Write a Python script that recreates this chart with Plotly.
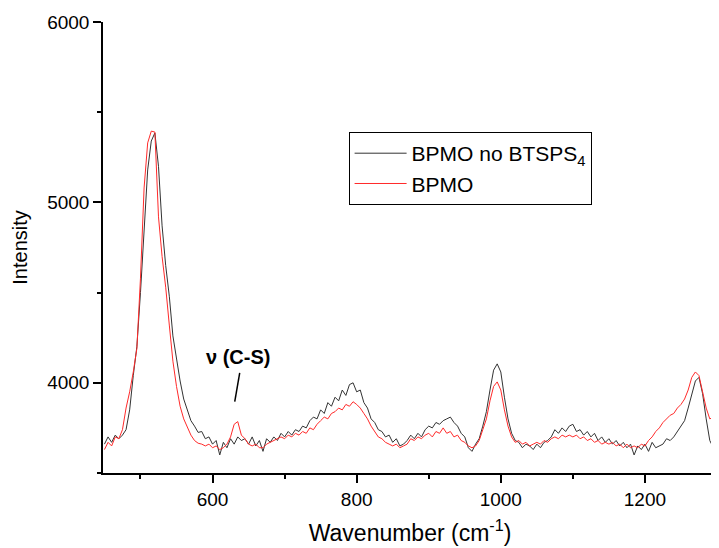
import plotly.graph_objects as go

wn_start = 450
wn_step = 5

bpmo_no_btsps = [
    3660, 3700, 3670, 3710, 3690, 3710, 3740, 3850, 4040, 4200,
    4500, 4850, 5180, 5340, 5385, 5200, 4870, 4650, 4480, 4260,
    4130, 4010, 3910, 3850, 3790, 3760, 3725, 3730, 3690, 3700,
    3660, 3680, 3600, 3670, 3640, 3690, 3660, 3700, 3680, 3690,
    3660, 3700, 3650, 3680, 3620, 3690, 3670, 3700, 3680, 3720,
    3700, 3730, 3710, 3740, 3730, 3760, 3750, 3790, 3810, 3800,
    3850, 3830, 3890, 3870, 3920, 3900, 3960, 3930, 3990, 4000,
    3950, 3960, 3890, 3860, 3800, 3780, 3740, 3730, 3700, 3710,
    3670, 3690, 3650, 3660, 3680, 3710, 3690, 3720, 3700, 3740,
    3760, 3750, 3780, 3770, 3790, 3800, 3810, 3780, 3760, 3720,
    3700, 3640, 3620, 3660, 3690, 3760, 3840, 3960, 4070, 4105,
    4060, 3920, 3800, 3720, 3680, 3670, 3640, 3660, 3650, 3630,
    3660, 3640, 3670, 3680, 3700, 3740, 3720, 3750, 3730, 3760,
    3770, 3730, 3740, 3710, 3730, 3700, 3720, 3680, 3700, 3670,
    3690, 3660, 3680, 3650, 3670, 3640, 3660, 3600, 3650, 3630,
    3660, 3620, 3670, 3640, 3650, 3660, 3690, 3680, 3700, 3730,
    3760, 3790, 3860, 3940, 4010, 4030, 3940, 3800, 3680, 3640,
    3660,
]

bpmo = [
    3630, 3670, 3650, 3700, 3690, 3740, 3860, 3950, 4060, 4190,
    4580, 5080, 5330, 5395, 5390, 4920, 4700, 4530, 4320, 4120,
    3980, 3870, 3800, 3750, 3710, 3680, 3665, 3660, 3650, 3660,
    3640, 3650, 3630, 3640, 3660, 3700, 3770, 3785, 3710, 3690,
    3660, 3650, 3660, 3640, 3640, 3660, 3670, 3680, 3690, 3700,
    3690, 3710, 3700, 3720, 3710, 3730, 3720, 3750, 3740, 3770,
    3790, 3810, 3800, 3830, 3840, 3860, 3850, 3880, 3870, 3895,
    3880, 3860, 3830, 3800, 3760, 3730, 3700, 3690, 3670, 3660,
    3650, 3660, 3640, 3650, 3660, 3690, 3680, 3700, 3690, 3710,
    3720, 3700, 3730, 3720, 3750, 3720, 3730, 3700, 3710, 3680,
    3670, 3650, 3640, 3650, 3680, 3740, 3800, 3900, 3980, 4005,
    3960, 3850, 3760, 3700, 3670, 3680, 3660, 3670, 3650, 3660,
    3670, 3660, 3680, 3670, 3690, 3700, 3690, 3710, 3700, 3710,
    3700, 3710, 3690, 3700, 3680, 3690, 3670, 3680, 3660, 3670,
    3660, 3670, 3650, 3660, 3640, 3660, 3640, 3650, 3640, 3660,
    3650, 3680, 3700, 3730, 3750, 3780, 3800, 3820, 3830, 3860,
    3880, 3910, 3960, 4030, 4060, 4040, 3950, 3860, 3800, 3810,
    3800,
]

wavenumber = [wn_start + i * wn_step for i in range(len(bpmo))]

FONT = "Liberation Sans, Arial, sans-serif"

fig = go.Figure()
fig.add_trace(go.Scatter(x=wavenumber, y=bpmo_no_btsps, mode='lines',
                         name='BPMO no BTSPS<sub>4</sub>',
                         line=dict(color='#333333', width=1)))
fig.add_trace(go.Scatter(x=wavenumber, y=bpmo, mode='lines', name='BPMO',
                         line=dict(color='#ff2a2a', width=1)))

# v(C-S) label with its pointer
fig.add_annotation(x=636, y=4145, text='<b>ν (C-S)</b>', showarrow=False,
                   font=dict(family=FONT, size=20, color='black'))
fig.add_shape(type='line', x0=637.7, y0=4055, x1=630.8, y1=3895,
              line=dict(color='black', width=1.5))

axis_common = dict(showline=True, linecolor='black', linewidth=1.5,
                   showgrid=False, zeroline=False, ticks='outside',
                   ticklen=8, tickwidth=1.5, tickcolor='black',
                   tickfont=dict(family=FONT, size=19, color='black'),
                   automargin=False)

fig.update_xaxes(range=[448, 1300], dtick=200, tick0=0,
                 minor=dict(ticks='outside', ticklen=4, dtick=100, tick0=0,
                            tickcolor='black', tickwidth=1.5),
                 title=dict(text='Wavenumber (cm<sup>-1</sup>)', standoff=16,
                            font=dict(family=FONT, size=23, color='black')),
                 **axis_common)
fig.update_yaxes(range=[3500, 6000], dtick=1000, tick0=0,
                 minor=dict(ticks='outside', ticklen=4, dtick=500, tick0=0,
                            tickcolor='black', tickwidth=1.5),
                 title=dict(text='Intensity', standoff=14,
                            font=dict(family=FONT, size=20, color='black')),
                 **axis_common)

# the page body has an 8px margin, so the figure is sized to fit inside it
fig.update_layout(
    width=711, height=540,
    plot_bgcolor='white', paper_bgcolor='white',
    margin=dict(l=95, r=2, t=14, b=75),
    font=dict(family=FONT, color='black'),
    legend=dict(x=0.40, y=0.756, xanchor='left', yanchor='top',
                bordercolor='black', borderwidth=1, bgcolor='white',
                font=dict(family=FONT, size=21, color='black'),
                itemwidth=52, tracegroupgap=0),
)

fig.write_html("out.html")
